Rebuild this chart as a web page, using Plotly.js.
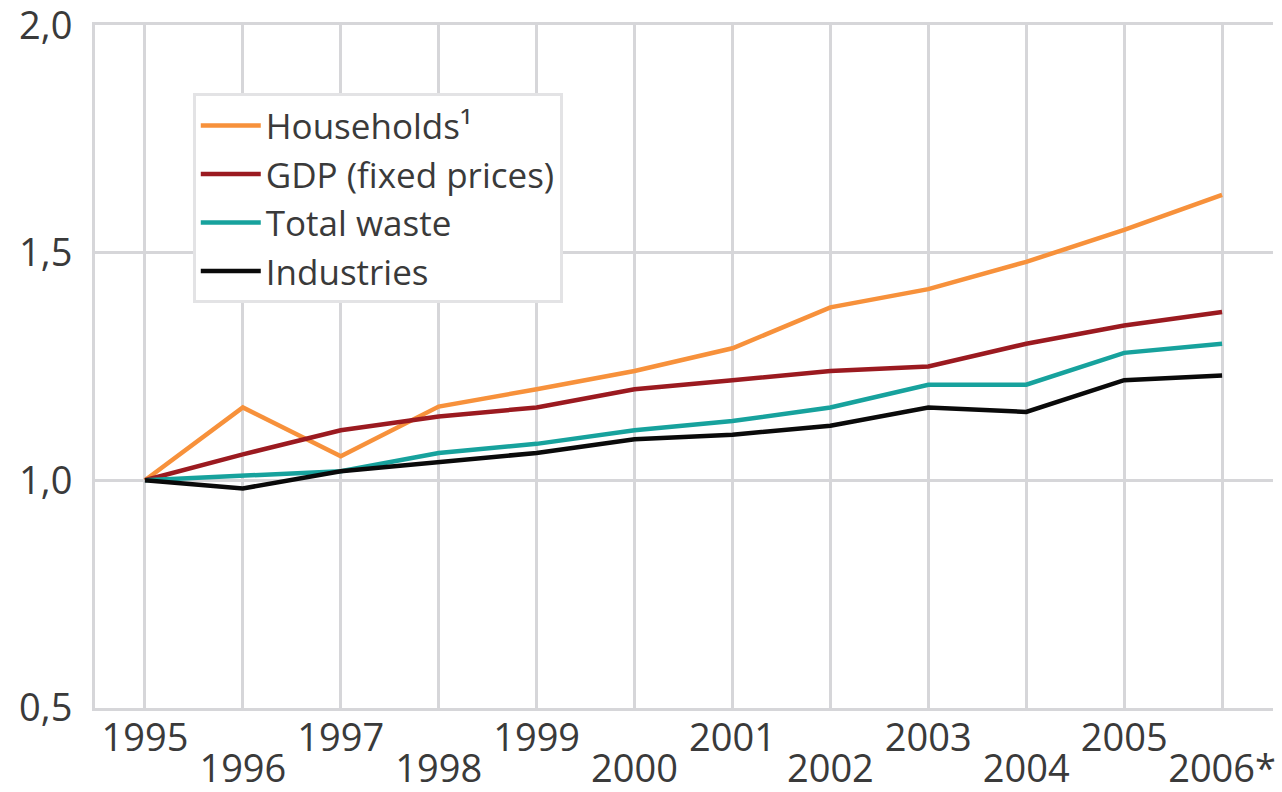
<!DOCTYPE html>
<html>
<head>
<meta charset="utf-8">
<script src="https://cdn.plot.ly/plotly-3.0.1.min.js"></script>
<style>
  html, body { margin: 0; padding: 0; background: #fff; }
  #myDiv { width: 1282px; height: 792px; }
</style>
</head>
<body>
<div id="myDiv"></div>
<script>
var years = [1995, 1996, 1997, 1998, 1999, 2000, 2001, 2002, 2003, 2004, 2005, 2006];
var yearLabels = ['1995', '1996', '1997', '1998', '1999', '2000', '2001', '2002', '2003', '2004', '2005', '2006*'];

var households = [1.00, 1.16, 1.053, 1.162, 1.20, 1.24, 1.29, 1.38, 1.42, 1.48, 1.55, 1.627];
var gdp = [1.00, 1.057, 1.11, 1.14, 1.16, 1.20, 1.22, 1.24, 1.25, 1.30, 1.34, 1.37];
var totalWaste = [1.00, 1.01, 1.02, 1.06, 1.08, 1.11, 1.13, 1.16, 1.21, 1.21, 1.28, 1.30];
var industries = [1.00, 0.982, 1.02, 1.04, 1.06, 1.09, 1.10, 1.12, 1.16, 1.15, 1.22, 1.23];

var yTicks = [0.5, 1.0, 1.5, 2.0];

var gridColor = '#d6d6d9';
var textColor = '#3a3a3a';
var xRange = [1994.49, 2006.52];

// odd years on the first row, even years on a second row below
var oddYears = years.filter(function (y, i) { return i % 2 === 0; });
var oddLabels = yearLabels.filter(function (t, i) { return i % 2 === 0; });
var evenYears = years.filter(function (y, i) { return i % 2 === 1; });
var evenLabels = yearLabels.filter(function (t, i) { return i % 2 === 1; });

function line(name, y, color) {
    return {
        type: 'scatter',
        mode: 'lines',
        name: name,
        x: years,
        y: y,
        line: { color: color, width: 4.5 }
    };
}

// invisible trace so the second x axis (even year labels) gets drawn
var evenAxisHolder = {
    type: 'scatter',
    mode: 'none',
    x: years,
    y: households,
    xaxis: 'x2',
    showlegend: false,
    hoverinfo: 'skip'
};

var data = [
    evenAxisHolder,
    line('Households¹', households, '#f7913b'),
    line('GDP (fixed prices)', gdp, '#9b1a20'),
    line('Total waste', totalWaste, '#17a29d'),
    line('Industries', industries, '#0a0a0a')
];

var layout = {
    width: 1282,
    height: 792,
    margin: { l: 95, r: 9, t: 25, b: 84 },
    paper_bgcolor: '#fff',
    plot_bgcolor: '#fff',
    separators: ',.',
    font: { family: 'Open Sans, sans-serif', size: 38, color: textColor },
    showlegend: true,
    legend: {
        x: 0.083,
        y: 0.90,
        xanchor: 'left',
        yanchor: 'top',
        bgcolor: '#fff',
        bordercolor: '#e3e3e5',
        borderwidth: 3,
        itemwidth: 60,
        font: { size: 35, color: textColor }
    },
    xaxis: {
        range: xRange,
        tickmode: 'array',
        tickvals: oddYears,
        ticktext: oddLabels,
        tickangle: 0,
        showgrid: true,
        gridcolor: gridColor,
        gridwidth: 3,
        zeroline: false,
        showline: true,
        mirror: true,
        linecolor: gridColor,
        linewidth: 3,
        ticks: '',
        ticklabelstandoff: -6,
        ticklabeloverflow: 'allow'
    },
    xaxis2: {
        overlaying: 'x',
        anchor: 'y',
        side: 'bottom',
        range: xRange,
        tickmode: 'array',
        tickvals: evenYears,
        ticktext: evenLabels,
        tickangle: 0,
        showgrid: true,
        gridcolor: gridColor,
        gridwidth: 3,
        zeroline: false,
        showline: false,
        ticks: '',
        ticklabelstandoff: 35,
        ticklabeloverflow: 'allow'
    },
    yaxis: {
        range: [0.4995, 2.0005],
        tickmode: 'array',
        tickvals: yTicks,
        tickformat: '.1f',
        showgrid: true,
        gridcolor: gridColor,
        gridwidth: 3,
        zeroline: false,
        showline: true,
        linecolor: gridColor,
        linewidth: 3,
        ticks: '',
        ticklabelstandoff: 12,
        ticklabeloverflow: 'allow'
    }
};

var config = { responsive: false, displayModeBar: false, staticPlot: true };

Plotly.newPlot('myDiv', data, layout, config);
</script>
</body>
</html>
